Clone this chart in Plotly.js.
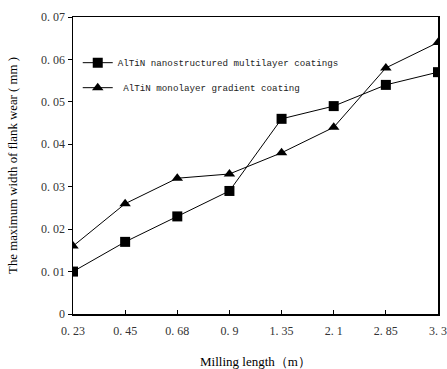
<!DOCTYPE html>
<html>
<head>
<meta charset="utf-8">
<script src="https://cdn.plot.ly/plotly-3.0.1.min.js"></script>
<style>html,body{margin:0;padding:0;background:#fff;}#chart{width:447px;height:369px;}</style>
</head>
<body>
<div id="chart"></div>
<script>
const categories = ["0.23", "0.45", "0.68", "0.9", "1.35", "2.1", "2.85", "3.3"];
const categoryLabels = ["0. 23", "0. 45", "0. 68", "0. 9", "1. 35", "2. 1", "2. 85", "3. 3"];
const multilayer = [0.010, 0.017, 0.023, 0.029, 0.046, 0.049, 0.054, 0.057];
const monolayer = [0.016, 0.026, 0.032, 0.033, 0.038, 0.044, 0.058, 0.064];
const yTickVals = [0, 0.01, 0.02, 0.03, 0.04, 0.05, 0.06, 0.07];
const yTickText = ["0", "0. 01", "0. 02", "0. 03", "0. 04", "0. 05", "0. 06", "0. 07"];

const serif = "Liberation Serif, DejaVu Serif, serif";
const traces = [
  {x: categories, y: multilayer, type: "scatter", mode: "lines+markers",
   name: "AlTiN nanostructured multilayer coatings", legendgroup: "a",
   line: {color: "#000", width: 1}, marker: {symbol: "square", size: 10, color: "#000"}},
  {x: categories, y: monolayer, type: "scatter", mode: "lines+markers",
   name: " AlTiN monolayer gradient coating", legendgroup: "b",
   line: {color: "#000", width: 1}, marker: {symbol: "triangle-up", size: 10, color: "#000"}}
];
const layout = {
  width: 447, height: 369,
  margin: {l: 73, r: 9, t: 17, b: 55},
  paper_bgcolor: "#fff", plot_bgcolor: "#fff",
  font: {family: serif, size: 12, color: "#000"},
  showlegend: true,
  legend: {x: 0.013, y: 0.895, xanchor: "left", yanchor: "top", bgcolor: "rgba(0,0,0,0)",
           font: {family: "Liberation Mono, DejaVu Sans Mono, monospace", size: 9.2, color: "#222"},
           itemwidth: 30, tracegroupgap: 6},
  xaxis: {type: "category", range: [0, 7], tickvals: categories, ticktext: categoryLabels,
          ticks: "inside", ticklen: 4, tickcolor: "#000", showgrid: false, zeroline: false,
          showline: true, linecolor: "#000", linewidth: 1.5, mirror: true, ticklabelstandoff: 5,
          tickfont: {family: serif, size: 12, color: "#333"},
          title: {text: "Milling length（m）", font: {family: serif, size: 13, color: "#000"}, standoff: 25}},
  yaxis: {range: [0, 0.07], tickvals: yTickVals, ticktext: yTickText,
          ticks: "outside", ticklen: 4, tickcolor: "#000", showgrid: false, zeroline: false,
          showline: true, linecolor: "#000", linewidth: 1.5, mirror: true,
          tickfont: {family: serif, size: 12, color: "#333"},
          title: {text: "The maximum width of flank wear ( mm )", font: {family: serif, size: 12.8, color: "#000"}, standoff: 20}}
};
Plotly.newPlot("chart", traces, layout, {displayModeBar: false, staticPlot: true});
</script>
</body>
</html>
